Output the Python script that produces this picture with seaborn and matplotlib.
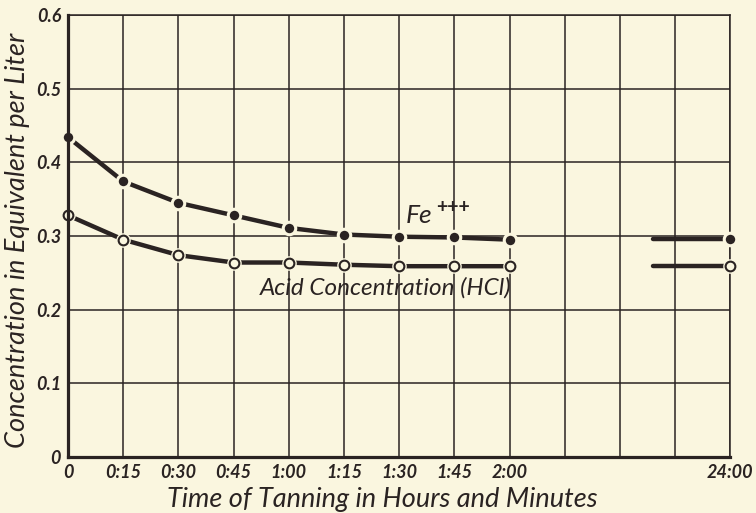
import matplotlib
matplotlib.use("Agg")
import matplotlib.pyplot as plt
import seaborn as sns
import pandas as pd

# Data
tick_labels = ['0', '0:15', '0:30', '0:45', '1:00', '1:15', '1:30', '1:45', '2:00', '', '', '', '24:00']
sample_times = ['0', '0:15', '0:30', '0:45', '1:00', '1:15', '1:30', '1:45', '2:00', '24:00']
fe_conc = [0.434, 0.374, 0.345, 0.328, 0.311, 0.302, 0.299, 0.298, 0.295, 0.296]
acid_conc = [0.328, 0.295, 0.274, 0.264, 0.264, 0.261, 0.259, 0.259, 0.259, 0.259]

BG = '#faf6df'
INK = '#2a2322'
RESUME = 10.6  # where the line picks up again after the axis break

sns.set_theme(style="white")
plt.rcParams['font.family'] = ['Lato', 'DejaVu Sans']

slot = [tick_labels.index(t) for t in sample_times]
df = pd.DataFrame({'slot': slot, 'Fe': fe_conc, 'Acid': acid_conc})
before = df[df['slot'] <= 8]

fig = plt.figure(figsize=(7.56, 5.13), dpi=100, facecolor=BG)
ax = fig.add_axes([0.090, 0.109, 0.876, 0.862], facecolor=BG)

# grid
for i in range(len(tick_labels)):
    ax.axvline(i, color=INK, lw=1.1, zorder=1)
for v in [0.1, 0.2, 0.3, 0.4, 0.5, 0.6]:
    ax.axhline(v, color=INK, lw=1.1, zorder=1)

for col in ['Fe', 'Acid']:
    sns.lineplot(data=before, x='slot', y=col, color=INK, lw=3.2, ax=ax, zorder=3)
    ax.plot([RESUME, df['slot'].iloc[-1]], [df[col].iloc[-1]] * 2, color=INK, lw=3.2, zorder=3)

# Fe markers: filled, with a gap around them
ax.plot(df['slot'], df['Fe'], ls='none', marker='o', ms=9, mfc=INK, mec=BG, mew=2.2,
        zorder=5, clip_on=False)
# Acid markers: open, with a gap around them
ax.plot(df['slot'], df['Acid'], ls='none', marker='o', ms=10.5, mfc=BG, mec=BG, mew=0,
        zorder=4, clip_on=False)
ax.plot(df['slot'], df['Acid'], ls='none', marker='o', ms=7, mfc=BG, mec=INK, mew=1.5,
        zorder=5, clip_on=False)

ax.set_xlim(0, 12)
ax.set_ylim(0, 0.6)
ax.set_xticks(range(len(tick_labels)))
ax.set_xticklabels(tick_labels)
ax.set_yticks([0, 0.1, 0.2, 0.3, 0.4, 0.5, 0.6])
ax.set_yticklabels(['0', '0.1', '0.2', '0.3', '0.4', '0.5', '0.6'])
ax.tick_params(length=0, labelsize=13, colors=INK, pad=5)
for lab in ax.get_xticklabels() + ax.get_yticklabels():
    lab.set_fontstyle('italic')
    lab.set_fontweight('bold')

for side in ['top', 'right']:
    ax.spines[side].set_color(INK)
    ax.spines[side].set_linewidth(1.1)
for side in ['left', 'bottom']:
    ax.spines[side].set_color(INK)
    ax.spines[side].set_linewidth(2.3)
    ax.spines[side].set_zorder(6)

ax.set_xlabel('Time of Tanning in Hours and Minutes', fontsize=19.5, style='italic',
              color=INK)
ax.xaxis.set_label_coords(0.475, -0.068)
ax.set_ylabel('Concentration in Equivalent per Liter', fontsize=19.5, style='italic',
              color=INK)
ax.yaxis.set_label_coords(-0.057, 0.49)

ax.annotate('Fe', xy=(6.12, 0.318), fontsize=19, style='italic', color=INK,
            ha='left', va='baseline', zorder=7)
ax.annotate('+++', xy=(6.12, 0.318), xytext=(22, 7), textcoords='offset points',
            fontsize=14, fontweight='bold', color=INK, ha='left', va='baseline', zorder=7)
ax.annotate('Acid Concentration (HCl)', xy=(3.48, 0.221), fontsize=17.5, style='italic',
            color=INK, ha='left', va='baseline', zorder=7)

fig.savefig('out.png', dpi=100, facecolor=BG)
